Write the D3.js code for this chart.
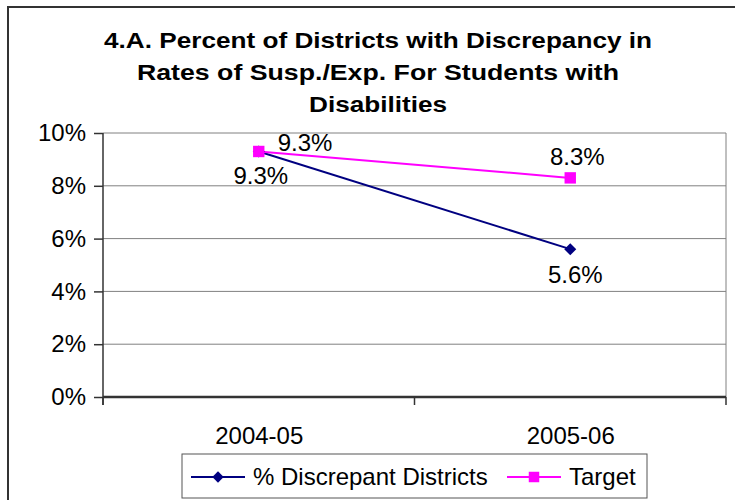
<!DOCTYPE html>
<html>
<head>
<meta charset="utf-8">
<script src="https://cdn.jsdelivr.net/npm/d3@7"></script>
<style>
  html, body { margin: 0; padding: 0; background: #fff; }
  text { font-family: "Liberation Sans", Arial, sans-serif; fill: #000; }
</style>
</head>
<body>
<div id="chart"></div>
<script>
// chart data
var years = ["2004-05", "2005-06"];
var discrepant = [0.093, 0.056];
var target = [0.093, 0.083];
var yTicks = [0, 0.02, 0.04, 0.06, 0.08, 0.10];
var titleLines = [
  "4.A. Percent of Districts with Discrepancy in",
  "Rates of Susp./Exp. For Students with",
  "Disabilities"
];
var seriesNames = ["% Discrepant Districts", "Target"];

var width = 735, height = 500;
var plot = {left: 103, right: 726, top: 133, bottom: 397};

var svg = d3.select("#chart")
    .append("svg")
    .attr("width", width)
    .attr("height", height);

svg.append("rect")
    .attr("width", width)
    .attr("height", height)
    .attr("fill", "white");

// outer frame, runs off the right and bottom like the original
svg.append("rect")
    .attr("x", 8)
    .attr("y", 7)
    .attr("width", 760)
    .attr("height", 520)
    .attr("fill", "none")
    .attr("stroke", "#333")
    .attr("stroke-width", 2);

// title
var titleWidths = [548, 482, 138];
svg.append("g")
    .selectAll("text")
    .data(titleLines)
    .enter().append("text")
    .attr("x", 378)
    .attr("y", function(d, i) { return 48 + i * 32; })
    .attr("text-anchor", "middle")
    .attr("font-size", 22)
    .attr("font-weight", "bold")
    .attr("textLength", function(d, i) { return titleWidths[i]; })
    .attr("lengthAdjust", "spacingAndGlyphs")
    .text(function(d) { return d; });

var x = d3.scalePoint()
    .domain(years)
    .range([plot.left, plot.right])
    .padding(0.5);

var y = d3.scaleLinear()
    .domain([0, 0.10])
    .range([plot.bottom, plot.top]);

// gridlines
svg.append("g")
    .selectAll("line")
    .data(yTicks.filter(function(d) { return d > 0; }))
    .enter().append("line")
    .attr("x1", plot.left)
    .attr("x2", plot.right)
    .attr("y1", function(d) { return y(d); })
    .attr("y2", function(d) { return y(d); })
    .attr("stroke", "#808080")
    .attr("stroke-width", 1);

// right edge of plot area
svg.append("line")
    .attr("x1", plot.right).attr("x2", plot.right)
    .attr("y1", plot.top).attr("y2", plot.bottom)
    .attr("stroke", "#808080");

// y axis
var yAxis = d3.axisLeft(y)
    .tickValues(yTicks)
    .tickFormat(d3.format(".0%"))
    .tickSize(9)
    .tickPadding(8);

var gy = svg.append("g")
    .attr("transform", "translate(" + plot.left + ",0)")
    .call(yAxis);
gy.select(".domain").attr("stroke", "#333").attr("stroke-width", 1.5)
    .attr("d", "M0," + plot.top + "V" + (plot.bottom + 8));
gy.selectAll(".tick line").attr("stroke", "#333").attr("stroke-width", 1.5);
gy.selectAll(".tick text")
    .attr("font-size", 24)
    .attr("font-family", "Liberation Sans, Arial, sans-serif")
    .attr("fill", "#000");

// x axis: category labels plus boundary ticks
var xAxis = d3.axisBottom(x).tickSize(0).tickPadding(30);
var gx = svg.append("g")
    .attr("transform", "translate(0," + plot.bottom + ")")
    .call(xAxis);
gx.select(".domain").attr("stroke", "#333").attr("stroke-width", 2.5)
    .attr("d", "M" + plot.left + ",0H" + plot.right);
gx.selectAll(".tick text")
    .attr("font-size", 24)
    .attr("font-family", "Liberation Sans, Arial, sans-serif")
    .attr("fill", "#000");

var step = x.step();
var bounds = [plot.left, x(years[0]) + step / 2, plot.right];
gx.selectAll(".bound")
    .data(bounds)
    .enter().append("line")
    .attr("class", "bound")
    .attr("x1", function(d) { return d; })
    .attr("x2", function(d) { return d; })
    .attr("y1", 0)
    .attr("y2", 8)
    .attr("stroke", "#333")
    .attr("stroke-width", 1.5);

// series
var series = [
  {name: seriesNames[0], values: discrepant, color: "#000080", rot: 45, size: 72},
  {name: seriesNames[1], values: target, color: "#FF00FF", rot: 0, size: 130}
];

var line = d3.line()
    .x(function(d, i) { return x(years[i]); })
    .y(function(d) { return y(d); });

series.forEach(function(s) {
    svg.append("path")
        .datum(s.values)
        .attr("d", line)
        .attr("fill", "none")
        .attr("stroke", s.color)
        .attr("stroke-width", 2);
});

// markers (diamond = square turned 45deg, as Excel draws it)
series.forEach(function(s) {
    svg.append("g")
        .selectAll("path")
        .data(s.values)
        .enter().append("path")
        .attr("transform", function(d, i) {
            return "translate(" + x(years[i]) + "," + y(d) + ") rotate(" + s.rot + ")";
        })
        .attr("d", d3.symbol().type(d3.symbolSquare).size(s.size))
        .attr("fill", s.color);
});

// data labels
var fmt = d3.format(".1%");
// label offsets: [dx, dy, anchor] per point
var labelPlace = [
  [[2, 33, "middle"], [5, 34, "middle"]],
  [[19, 0, "start"], [7, -13, "middle"]]
];
series.forEach(function(s, si) {
    svg.append("g")
        .selectAll("text")
        .data(s.values)
        .enter().append("text")
        .attr("x", function(d, i) { return x(years[i]) + labelPlace[si][i][0]; })
        .attr("y", function(d, i) { return y(d) + labelPlace[si][i][1]; })
        .attr("text-anchor", function(d, i) { return labelPlace[si][i][2]; })
        .attr("font-size", 24)
        .text(function(d) { return fmt(d); });
});

// legend
var legend = svg.append("g");
legend.append("rect")
    .attr("x", 182)
    .attr("y", 454)
    .attr("width", 465)
    .attr("height", 44)
    .attr("fill", "white")
    .attr("stroke", "#555")
    .attr("stroke-width", 1);

var legendX = [191, 507];
series.forEach(function(s, i) {
    var g = legend.append("g").attr("transform", "translate(" + legendX[i] + ",477)");
    g.append("line")
        .attr("x1", 0).attr("x2", 54)
        .attr("stroke", s.color)
        .attr("stroke-width", 2);
    g.append("path")
        .attr("transform", "translate(27,0) rotate(" + s.rot + ")")
        .attr("d", d3.symbol().type(d3.symbolSquare).size(s.rot ? 64 : 110))
        .attr("fill", s.color);
    g.append("text")
        .attr("x", 62)
        .attr("y", 8)
        .attr("font-size", 24)
        .text(s.name);
});
</script>
</body>
</html>
